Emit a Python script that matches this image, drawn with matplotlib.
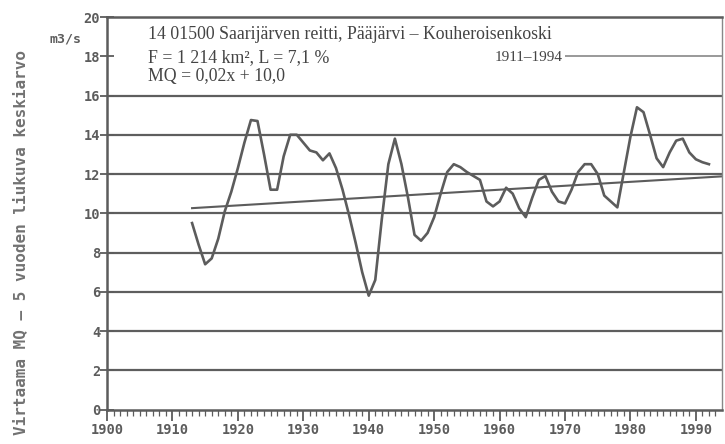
import numpy as np
import matplotlib
matplotlib.use("Agg")
import matplotlib.pyplot as plt

# 5-year moving average of MQ (m3/s)
years = list(range(1913, 1993))
mq = [9.5, 8.4, 7.4, 7.7, 8.7, 10.1, 11.1, 12.3, 13.6, 14.75,
      14.7, 13.0, 11.2, 11.2, 12.9, 14.0, 14.0, 13.6, 13.2, 13.1,
      12.7, 13.05, 12.3, 11.2, 9.9, 8.5, 7.0, 5.8, 6.6, 9.7,
      12.5, 13.8, 12.5, 10.8, 8.9, 8.6, 9.0, 9.8, 11.0, 12.1,
      12.5, 12.35, 12.1, 11.9, 11.7, 10.6, 10.35, 10.6, 11.3, 11.0,
      10.25, 9.8, 10.8, 11.7, 11.9, 11.1, 10.6, 10.5, 11.2, 12.1,
      12.5, 12.5, 12.0, 10.9, 10.6, 10.3, 12.1, 13.9, 15.4, 15.15,
      14.0, 12.8, 12.35, 13.1, 13.7, 13.8, 13.1, 12.75, 12.6, 12.5]

# trend MQ = 0.02x + 10.0, x = years since 1900
trend_years = [1913, 1994]
trend_a = 0.02
trend_b = 10.0

xticks = list(range(1900, 2000, 10))
yticks = list(range(0, 22, 2))
grid_vals = [2, 4, 6, 8, 10, 12, 14, 16]

grey = "#5c5c5c"
mono = "DejaVu Sans Mono"
serif = "Liberation Serif"

fig = plt.figure(figsize=(7.25, 4.44), dpi=100)
ax = fig.add_axes([0.1476, 0.0777, 0.8483, 0.884])

for v in grid_vals:
    ax.axhline(v, color="#5e5e5e", lw=1.6, zorder=1)
ax.hlines(18, 1970, 1994, color="#999999", lw=1.4, zorder=1)

tx = np.array(trend_years)
ax.plot(tx, trend_a * (tx - 1900) + trend_b, color=grey, lw=1.5, zorder=2)
ax.plot(years, mq, color=grey, lw=1.9, zorder=3)

ax.set_xlim(1900, 1994)
ax.set_ylim(0, 20)
ax.set_xticks(xticks)
ax.set_xticks(range(1900, 1994), minor=True)
ax.set_yticks(yticks)

ax.tick_params(axis="x", which="major", direction="out", length=8, width=1.3,
               color=grey, labelcolor=grey, pad=2)
ax.tick_params(axis="x", which="minor", direction="out", length=4, width=0.9,
               color=grey)
ax.tick_params(axis="y", which="major", direction="inout", length=10, width=1.3,
               color=grey, labelcolor=grey, pad=0)
for lab in ax.get_xticklabels() + ax.get_yticklabels():
    lab.set_family(mono)
    lab.set_fontweight("bold")
    lab.set_fontsize(9.8)

for side in ["left", "bottom", "top"]:
    ax.spines[side].set_color(grey)
    ax.spines[side].set_linewidth(1.8)
ax.spines["right"].set_color("#888888")
ax.spines["right"].set_linewidth(1.0)

ax.set_ylabel("Virtaama MQ \u2013 5 vuoden liukuva keskiarvo", family=mono,
              fontweight="bold", fontsize=11.5, color="#727272")
ax.yaxis.set_label_coords(-0.128, 0.425)

fig.text(0.068, 0.912, "m3/s", family=mono, fontweight="bold", fontsize=9.5,
         color=grey, ha="left", va="center")

txt = dict(family=serif, fontsize=12.8, color="#444444", ha="left", va="center")
ax.text(1906.3, 19.1, "14 01500 Saarij\u00e4rven reitti, P\u00e4\u00e4j\u00e4rvi \u2013 Kouheroisenkoski", **txt)
ax.text(1906.3, 17.95, "F = 1 214 km\u00b2, L = 7,1 %", **txt)
ax.text(1906.3, 16.95, "MQ = 0,02x + 10,0", **txt)
ax.text(1969.6, 17.95, "1911\u20131994", family=serif, fontsize=11, color="#444444",
        ha="right", va="center")

fig.savefig("out.png", dpi=100)
